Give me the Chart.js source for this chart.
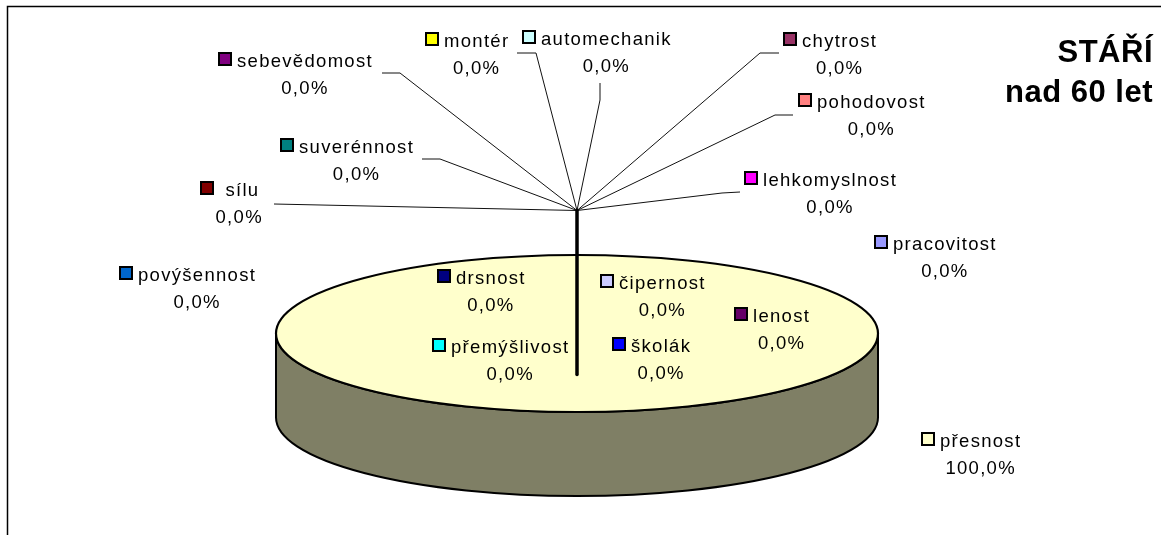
<!DOCTYPE html>
<html><head><meta charset="utf-8">
<script src="https://cdn.jsdelivr.net/npm/chart.js@4/dist/chart.umd.min.js"></script>
<style>html,body{margin:0;padding:0;background:#fff;overflow:hidden}canvas{display:block}</style>
</head><body>
<canvas id="c" width="1161" height="535"></canvas>
<script>
// ---- data ----
const categories = ['sebevědomost','montér','automechanik','chytrost','pohodovost','lehkomyslnost','pracovitost',' sílu','suverénnost','povýšennost','drsnost','čipernost','lenost','přemýšlivost','školák','přesnost'];
const values = [0,0,0,0,0,0,0,0,0,0,0,0,0,0,0,100];
const sliceColors = ['#800080','#FFFF00','#CCFFFF','#993366','#FF8080','#FF00FF','#9999FF','#800000','#008080','#0066CC','#000080','#CCCCFF','#660066','#00FFFF','#0000FF','#FFFFCC'];
const titleLines = ['STÁŘÍ','nad 60 let'];

// ---- layout (positions only) ----
const labelLayout = [
  {x:218,y:67, leader:[[382,73],[400,73]]},
  {x:425,y:47, leader:[[517,53],[536,53]]},
  {x:522,y:45, leader:[[600,83],[600,100]]},
  {x:783,y:47, leader:[[779,53],[760,53]]},
  {x:798,y:108,leader:[[793,115],[775,115]]},
  {x:744,y:186,leader:[[740,192],[722,193]]},
  {x:874,y:250},
  {x:200,y:196,leader:[[274,204]]},
  {x:280,y:153,leader:[[422,159],[440,159]]},
  {x:119,y:281},
  {x:437,y:284},
  {x:600,y:289},
  {x:734,y:322},
  {x:432,y:353},
  {x:612,y:352},
  {x:921,y:447}
];
const G = {cx:577, cy:333.5, rx:301, ry:78.5, depth:84, hubDy:-123, stemDy:41};
const sideColor = '#7f7f65';
const labelFont = '18.5px "Liberation Sans", Arial, sans-serif';
const titleFont = 'bold 31px "Liberation Sans", Arial, sans-serif';

const pie3d = {
  id:'pie3d',
  beforeDatasetsDraw(chart){
    const ctx = chart.ctx;
    const el = chart.getDatasetMeta(0).data[0];
    ctx.save();
    ctx.beginPath();
    ctx.ellipse(G.cx, G.cy, G.rx, G.ry, 0, 0, Math.PI, false);
    ctx.lineTo(G.cx - G.rx, G.cy + G.depth);
    ctx.ellipse(G.cx, G.cy + G.depth, G.rx, G.ry, 0, Math.PI, 0, true);
    ctx.closePath();
    ctx.fillStyle = sideColor;
    ctx.fill();
    ctx.lineWidth = 2;
    ctx.strokeStyle = '#000';
    ctx.lineJoin = 'round';
    ctx.stroke();
    ctx.restore();
    ctx.save();
    ctx.translate(G.cx, G.cy);
    ctx.scale(G.rx / el.outerRadius, G.ry / el.outerRadius);
    ctx.translate(-el.x, -el.y);
  },
  afterDatasetsDraw(chart){
    const ctx = chart.ctx;
    ctx.restore();
    ctx.save();
    ctx.beginPath();
    ctx.ellipse(G.cx, G.cy, G.rx, G.ry, 0, 0, Math.PI*2);
    ctx.lineWidth = 2.2;
    ctx.strokeStyle = '#000';
    ctx.stroke();
    ctx.restore();
  },
  afterDraw(chart){
    const ctx = chart.ctx;
    const vals = chart.data.datasets[0].data;
    const total = vals.reduce((a,b)=>a+b,0);
    ctx.save();
    ctx.strokeStyle = '#000';
    ctx.lineWidth = 1.5;
    ctx.strokeRect(7.5, 6.5, 1300, 700);
    const hub = [G.cx, G.cy + G.hubDy];
    ctx.lineWidth = 1;
    ctx.strokeStyle = '#111';
    labelLayout.forEach(l=>{
      if(!l.leader) return;
      ctx.beginPath();
      ctx.moveTo(l.leader[0][0], l.leader[0][1]);
      for(let i=1;i<l.leader.length;i++) ctx.lineTo(l.leader[i][0], l.leader[i][1]);
      ctx.lineTo(hub[0], hub[1]);
      ctx.stroke();
    });
    ctx.beginPath();
    ctx.moveTo(hub[0], hub[1]);
    ctx.lineTo(G.cx, G.cy + G.stemDy);
    ctx.lineWidth = 3.5;
    ctx.strokeStyle = '#000';
    ctx.lineCap = 'round';
    ctx.stroke();
    ctx.font = labelFont;
    ctx.letterSpacing = '1.3px';
    ctx.textBaseline = 'alphabetic';
    chart.data.labels.forEach((name,i)=>{
      const l = labelLayout[i];
      ctx.fillStyle = chart.data.datasets[0].backgroundColor[i];
      ctx.fillRect(l.x+1, l.y-14, 12, 12);
      ctx.lineWidth = 2;
      ctx.strokeStyle = '#000';
      ctx.strokeRect(l.x+1, l.y-14, 12, 12);
      ctx.fillStyle = '#000';
      ctx.textAlign = 'left';
      const tx = l.x + 19;
      ctx.fillText(name, tx, l.y);
      const w = ctx.measureText(name).width;
      const pct = (vals[i]/total*100).toFixed(1).replace('.', ',') + '%';
      ctx.textAlign = 'center';
      ctx.fillText(pct, tx + w/2, l.y + 27);
    });
    ctx.font = titleFont;
    ctx.letterSpacing = '0.5px';
    ctx.textAlign = 'right';
    ctx.fillText(titleLines[0], 1153, 62);
    ctx.fillText(titleLines[1], 1153, 102);
    ctx.restore();
  }
};

new Chart(document.getElementById('c'), {
  type:'pie',
  data:{labels:categories, datasets:[{data:values, backgroundColor:sliceColors, borderWidth:0}]},
  options:{
    responsive:false, animation:false, events:[],
    layout:{padding:0},
    plugins:{legend:{display:false}, tooltip:{enabled:false}, title:{display:false}}
  },
  plugins:[pie3d]
});
</script>
</body></html>
